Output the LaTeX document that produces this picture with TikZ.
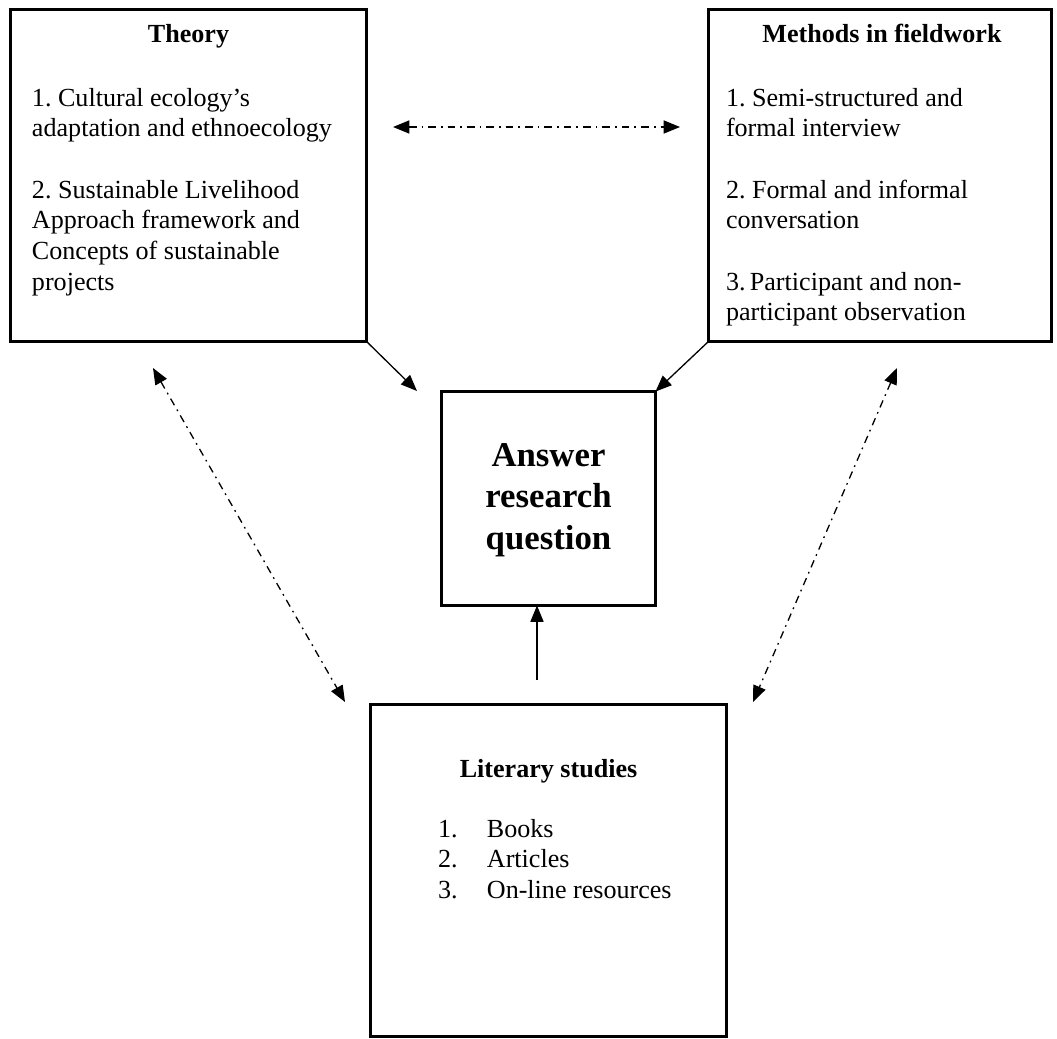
\documentclass[tikz,border=0pt]{standalone}
\usepackage{fontspec}
\setmainfont{Liberation Serif}
\usetikzlibrary{arrows.meta}
\frenchspacing
\begin{document}
\begin{tikzpicture}[x=0.46pt,y=-0.46pt]
\tikzset{ >={Triangle[length=7.5pt,width=6pt]}, inner sep=0pt, outer sep=0pt,
  box/.style={draw, line width=1.6pt},
  title/.style={font=\fontsize{12}{14.1}\selectfont\bfseries, anchor=base},
  body/.style={font=\fontsize{12}{14.1}\selectfont, align=left, anchor=north west},
  link/.style={->, line width=0.6pt},
  dashlink/.style={<->, line width=0.6pt, dash pattern=on 3.5pt off 2.3pt on 0.8pt off 2.3pt},
}

\useasboundingbox (0,0) rectangle (1057,1039);

%%% Boxes

% Theory
\node [box, minimum width=163.8pt, minimum height=152.7pt] (theory) at (188.5,175.5) { };
\node [title] (theoryT) at (188.5,43) {Theory};
\node [body] (theoryB) at (32,88.2) {1. Cultural ecology’s\\adaptation and ethnoecology\\[14.1pt]
  2. Sustainable Livelihood\\Approach framework and\\Concepts of sustainable\\projects};

% Methods in fieldwork
\node [box, minimum width=157.8pt, minimum height=152.7pt] (methods) at (880,175.5) { };
\node [title] (methodsT) at (882,43) {Methods in fieldwork};
\node [body] (methodsB) at (726,88.2) {1. Semi-structured and\\formal interview\\[14.1pt]
  2. Formal and informal\\conversation\\[14.1pt]
  3.\,Participant and non-\\participant observation};

% Answer research question
\node [box, minimum width=98.4pt, minimum height=98.4pt] (answer) at (548.5,498.5) { };
\node [font=\fontsize{16}{19}\selectfont\bfseries, align=center, anchor=north] (answerT)
  at (548.5,443.5) {Answer\\research\\question};

% Literary studies
\node [box, minimum width=163.8pt, minimum height=152.7pt] (literary) at (548.5,870.5) { };
\node [title] (literaryT) at (548.5,777) {Literary studies};
\node [body] (literaryB) at (438,819) {\makebox[22.5pt][l]{1.}Books\\
  \makebox[22.5pt][l]{2.}Articles\\\makebox[22.5pt][l]{3.}On-line resources};

%%% Lines

% free ends
\coordinate (theoryEnd) at (417,391);
\coordinate (literaryTop) at (537,680);
\coordinate (midL) at (393,127);
\coordinate (midR) at (680,127);
\coordinate (leftU) at (153,368);
\coordinate (leftD) at (345,702);
\coordinate (rightU) at (897,368);
\coordinate (rightD) at (753,702);

% theory -> answer
\draw [link] (theory.south east) -- (theoryEnd);

% methods -> answer
\draw [link] (methods.south west) -- (answer.north east);

% literary -> answer
\draw [link] (literaryTop) -- (literaryTop |- answer.south);

% theory <-> methods
\draw [dashlink] (midL) -- (midR);

% theory <-> literary
\draw [dashlink] (leftU) -- (leftD);

% methods <-> literary
\draw [dashlink] (rightU) -- (rightD);

\end{tikzpicture}
\end{document}
